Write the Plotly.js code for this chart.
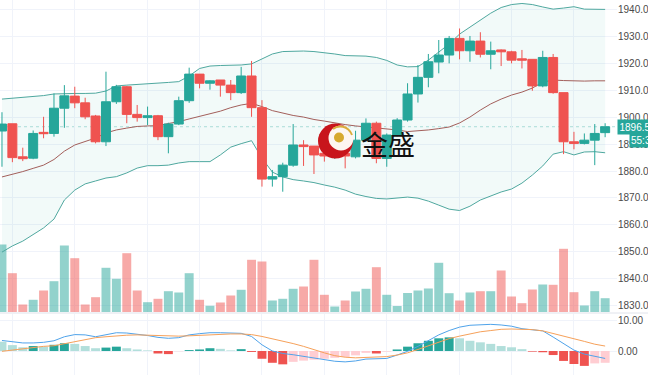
<!DOCTYPE html>
<html><head><meta charset="utf-8">
<script src="https://cdn.plot.ly/plotly-3.0.1.min.js"></script>
<style>html,body{margin:0;padding:0;background:#fff;overflow:hidden}#chart{width:648px;height:375px}</style>
</head><body><div id="chart"></div>
<script>
// ---- data ----
const openP  = [1894.9,1897.6,1885.3,1884.8,1894.4,1894.0,1903.4,1907.9,1905.4,1900.5,1890.9,1905.8,1911.4,1901.1,1899.9,1900.6,1892.8,1897.5,1906.2,1916.1,1912.7,1913.9,1912.0,1909.2,1915.4,1903.6,1877.0,1877.9,1882.2,1889.7,1889.3,1886.6,1885.6,1886.6,1885.3,1891.5,1897.8,1884.7,1893.4,1899.0,1908.7,1914.9,1920.6,1923.2,1929.4,1924.8,1928.4,1923.5,1925.1,1924.4,1921.8,1921.6,1911.7,1922.3,1909.2,1890.9,1890.3,1891.5,1894.3];
const highP  = [1901.9,1897.6,1888.7,1895.1,1900.2,1908.9,1912.0,1911.4,1907.3,1900.9,1917.0,1912.1,1911.7,1904.6,1904.0,1900.9,1898.0,1907.7,1918.5,1916.1,1913.8,1913.9,1913.9,1918.8,1921.0,1906.4,1880.4,1883.1,1897.5,1891.5,1889.3,1889.0,1888.0,1889.0,1895.0,1899.6,1898.4,1894.0,1899.7,1912.7,1919.5,1923.6,1928.8,1930.3,1933.1,1930.3,1931.7,1928.2,1925.3,1924.8,1925.1,1921.6,1924.8,1923.6,1909.2,1894.6,1894.0,1897.5,1897.8];
const lowP   = [1881.6,1883.3,1883.7,1884.4,1892.2,1892.8,1896.1,1903.4,1899.3,1890.3,1889.3,1905.0,1897.8,1898.4,1897.1,1891.5,1886.6,1897.1,1905.4,1910.8,1910.3,1907.7,1906.4,1908.7,1900.2,1874.2,1874.2,1872.3,1881.6,1881.9,1878.9,1883.5,1884.5,1881.0,1884.7,1890.9,1882.9,1881.6,1892.9,1898.4,1905.5,1911.2,1916.4,1920.1,1921.6,1920.7,1922.3,1917.9,1919.1,1920.1,1918.2,1909.9,1911.2,1908.8,1886.3,1888.1,1889.9,1882.2,1892.6];
const closeP = [1897.5,1885.0,1884.6,1894.0,1893.9,1903.4,1908.0,1905.4,1900.2,1890.9,1905.8,1911.4,1901.1,1899.9,1900.6,1892.8,1897.5,1906.2,1916.1,1912.7,1913.6,1912.0,1909.2,1915.4,1903.6,1877.0,1877.9,1882.2,1889.7,1889.1,1886.0,1885.6,1886.2,1885.6,1891.5,1897.8,1884.7,1893.4,1899.0,1908.7,1914.9,1920.7,1923.2,1929.4,1924.8,1928.4,1923.5,1924.8,1924.4,1921.3,1921.3,1911.7,1922.3,1909.2,1890.9,1890.3,1891.5,1894.0,1896.5];
const volume = [67.5,38.8,7.5,12.2,21.5,30.8,66.5,53.8,7.5,14.8,44.2,33.2,58.8,21.5,9.8,13.2,20.8,19.5,38.8,12.2,6.2,9.5,16.5,22.2,52.2,50.5,11.5,13.2,23.2,25.5,52.2,17.2,5.5,11.5,20.5,23.2,44.8,17.2,6.0,19.0,21.5,23.5,49.2,18.8,11.5,19.5,20.8,20.8,41.5,15.5,8.8,22.5,27.5,27.2,63.2,19.8,6.5,20.8,13.8];
const bbUpper  = [1906.8,1907.1,1907.4,1907.7,1908.1,1908.7,1908.9,1908.9,1908.9,1909.0,1909.8,1911.7,1912.0,1912.2,1912.4,1912.6,1913.0,1913.3,1915.4,1918.2,1919.1,1919.3,1919.4,1919.5,1919.9,1921.9,1923.6,1924.5,1924.7,1924.7,1924.5,1924.1,1923.6,1923.0,1922.9,1922.8,1922.3,1921.2,1919.5,1918.8,1918.9,1921.3,1924.3,1927.3,1931.0,1933.7,1936.2,1938.8,1940.9,1942.0,1942.4,1942.0,1941.1,1940.3,1940.7,1941.2,1940.3,1940.2,1940.2];
const bbMiddle = [1877.8,1878.7,1879.8,1881.0,1882.2,1884.3,1887.4,1889.7,1891.0,1892.3,1894.2,1895.3,1896.0,1896.6,1896.8,1896.9,1897.7,1898.4,1899.4,1900.3,1901.4,1902.3,1903.6,1904.6,1905.2,1904.0,1902.5,1901.6,1900.7,1900.1,1899.2,1898.6,1897.9,1897.3,1896.8,1896.4,1896.0,1895.8,1895.3,1894.7,1894.9,1895.3,1895.8,1896.4,1897.9,1900.1,1902.7,1905.0,1906.8,1908.3,1909.4,1910.9,1913.1,1913.9,1913.7,1913.5,1913.5,1913.6,1913.6];
const bbLower  = [1849.8,1852.1,1853.9,1856.2,1858.8,1862.1,1869.2,1872.9,1875.2,1876.3,1877.4,1877.9,1879.3,1881.1,1882.0,1882.0,1882.2,1883.0,1883.5,1883.5,1883.5,1886.0,1888.9,1890.2,1891.3,1884.8,1879.6,1877.8,1876.8,1876.3,1875.7,1874.8,1874.0,1872.9,1871.4,1870.5,1869.8,1869.6,1869.9,1870.3,1869.9,1868.8,1867.3,1865.8,1865.3,1866.9,1869.2,1870.7,1872.2,1873.3,1875.5,1878.5,1881.9,1886.3,1887.2,1886.0,1887.1,1887.2,1886.8];
const macdLine   = [3.4,3.0,2.6,2.6,2.8,3.3,4.6,5.3,5.2,4.6,5.3,5.9,5.8,5.5,5.0,4.4,4.1,4.3,5.2,5.6,5.9,5.9,5.9,5.7,4.7,2.0,0.0,-0.8,-1.2,-1.7,-2.3,-2.8,-3.3,-3.5,-3.2,-2.6,-2.4,-2.4,-1.3,-0.1,1.5,3.3,5.2,6.6,7.7,8.3,8.5,8.6,8.4,8.0,7.2,6.8,6.5,4.5,2.5,0.3,-1.0,-1.8,-2.4];
const signalLine = [-0.1,0.3,0.8,1.2,1.5,1.7,2.4,3.1,3.7,4.3,4.6,4.9,5.1,5.2,5.1,4.9,4.8,4.8,4.9,5.1,5.3,5.4,5.5,5.5,5.3,4.7,4.0,3.2,2.4,1.5,0.4,-0.6,-1.5,-2.0,-2.2,-2.1,-2.0,-1.8,-1.3,-0.6,0.5,1.6,2.9,4.0,4.8,5.5,6.2,6.6,7.0,7.1,7.1,6.9,6.5,5.7,4.9,4.0,3.1,2.2,1.6];
const macdHist   = [3.0,1.9,1.2,1.6,1.4,2.0,2.5,2.3,1.6,0.9,1.1,1.4,0.9,0.5,0.2,-0.8,-1.0,-0.1,0.3,0.5,0.9,0.7,0.2,0.6,-0.3,-2.5,-3.8,-4.3,-3.5,-3.1,-2.8,-2.5,-2.2,-1.9,-1.4,-0.6,-0.8,-0.2,0.5,1.4,2.5,3.3,4.1,4.4,4.1,3.3,2.8,2.3,1.6,1.2,0.6,-0.2,-0.4,-1.3,-3.2,-4.2,-4.8,-4.0,-3.8];
const gridIdx = [1,7,14,19,25,31,37,44,49,55];
const lastPrice = 1896.5;
const countdownText = '55:30';
const watermarkText = '金盛';

// ---- derived ----
const idx = openP.map((_, i) => i);
const UP = '#26a69a', DN = '#ef5350';
const volColors = idx.map(i => closeP[i] >= openP[i] ? 'rgba(38,166,154,0.5)' : 'rgba(239,83,80,0.5)');
const histColors = macdHist.map((v, i) => {
  const p = i > 0 ? macdHist[i - 1] : v;
  if (v >= 0) return v > p ? '#26a69a' : '#b2dfdb';
  return v < p ? '#ef5350' : '#ffcdd2';
});

const PW = 617, H = 375;           // plot width / height in px
const priceRange = [1827.5, 1943.7];
const xRange = [-0.19, 59.14];

const traces = [
  {type:'bar', x:idx, y:volume, xaxis:'x', yaxis:'y', marker:{color:volColors, line:{width:0}}, hoverinfo:'skip'},
  {type:'scatter', mode:'lines', x:idx, y:bbLower, xaxis:'x', yaxis:'y2', line:{color:'#4fa89f', width:1}, hoverinfo:'skip'},
  {type:'scatter', mode:'lines', x:idx, y:bbUpper, xaxis:'x', yaxis:'y2', line:{color:'#4fa89f', width:1}, fill:'tonexty', fillcolor:'rgba(38,166,154,0.06)', hoverinfo:'skip'},
  {type:'scatter', mode:'lines', x:idx, y:bbMiddle, xaxis:'x', yaxis:'y2', line:{color:'#a35f5b', width:1}, hoverinfo:'skip'},
  {type:'candlestick', x:idx, open:openP, high:highP, low:lowP, close:closeP, xaxis:'x', yaxis:'y4',
    increasing:{line:{color:UP, width:1}, fillcolor:UP}, decreasing:{line:{color:DN, width:1}, fillcolor:DN},
    whiskerwidth:0, hoverinfo:'skip'},
  {type:'bar', x:idx, y:macdHist, xaxis:'x2', yaxis:'y3', marker:{color:histColors, line:{width:0}}, hoverinfo:'skip'},
  {type:'scatter', mode:'lines', x:idx, y:macdLine, xaxis:'x2', yaxis:'y3', line:{color:'#4fa3ea', width:1}, hoverinfo:'skip'},
  {type:'scatter', mode:'lines', x:idx, y:signalLine, xaxis:'x2', yaxis:'y3', line:{color:'#f6a15a', width:1}, hoverinfo:'skip'}
];

const tickFont = {family:'Liberation Sans, Arial, sans-serif', size:10, color:'#4a4a4a'};
const xCommon = {range:xRange, autorange:false, tickmode:'array', tickvals:gridIdx, showticklabels:false, ticks:'',
  showgrid:true, gridcolor:'#f0f3fa', gridwidth:1, zeroline:false, showline:false, fixedrange:true,
  rangeslider:{visible:false}};

const layout = {
  width:648, height:375,
  margin:{l:0, r:648-PW, t:0, b:0},
  paper_bgcolor:'#ffffff', plot_bgcolor:'#ffffff',
  showlegend:false,
  bargap:0.14,
  boxgap:0.1, boxgroupgap:0.04,
  xaxis: Object.assign({anchor:'y', domain:[0,1]}, xCommon),
  xaxis2: Object.assign({anchor:'y3', domain:[0,1]}, xCommon),
  yaxis: {domain:[1-312/H, 1], range:[0, 312], visible:false, fixedrange:true},
  yaxis2: {overlaying:'y', side:'right', anchor:'x', range:priceRange, tick0:1830, dtick:10, tickformat:'.2f',
    showgrid:true, gridcolor:'#f0f3fa', zeroline:false, showline:false, ticks:'', tickfont:tickFont, automargin:false, fixedrange:true},
  yaxis4: {overlaying:'y', side:'right', anchor:'x', range:priceRange, visible:false, fixedrange:true},
  yaxis3: {domain:[0, 1-314/H], anchor:'x2', side:'right', range:[-7.74, 11.94], tickmode:'array', tickvals:[0,10],
    tickformat:'.2f', showgrid:true, gridcolor:'#f0f3fa', zeroline:false, showline:false, ticks:'', tickfont:tickFont, automargin:false, fixedrange:true},
  shapes: [
    {type:'line', xref:'paper', yref:'y2', x0:0, x1:1, y0:lastPrice, y1:lastPrice, line:{color:'rgba(38,166,154,0.35)', width:1, dash:'dot'}, layer:'below'},
    {type:'line', xref:'paper', yref:'paper', x0:0, x1:648/PW, y0:1-313/H, y1:1-313/H, line:{color:'#e0e3eb', width:1}},
    // watermark logo
    {type:'circle', xref:'paper', yref:'paper', xsizemode:'pixel', ysizemode:'pixel', xanchor:335.5/PW, yanchor:1-141/H,
      x0:-17.5, x1:17.5, y0:-17.5, y1:17.5, fillcolor:'#c8151c', line:{width:0}},
    {type:'circle', xref:'paper', yref:'paper', xsizemode:'pixel', ysizemode:'pixel', xanchor:341/PW, yanchor:1-138/H,
      x0:-12.5, x1:12.5, y0:-12.5, y1:12.5, fillcolor:'#fdf6f0', line:{width:0}},
    {type:'path', xref:'paper', yref:'paper', xsizemode:'pixel', ysizemode:'pixel', xanchor:341/PW, yanchor:1-138/H,
      path:'M -8,9 C -3,13 7,13 11,3', line:{color:'#d9ad3c', width:2}},
    {type:'circle', xref:'paper', yref:'paper', xsizemode:'pixel', ysizemode:'pixel', xanchor:339/PW, yanchor:1-137.5/H,
      x0:-5, x1:5, y0:-5, y1:5, fillcolor:'#d6a92e', line:{width:0}}
  ],
  annotations: [
    {xref:'paper', yref:'paper', x:388/PW, y:1-143/H, text:watermarkText, showarrow:false,
      font:{family:'Noto Sans CJK SC', size:27, color:'#111111'}},
    {xref:'paper', yref:'y2', x:1, xanchor:'left', y:lastPrice, text:lastPrice.toFixed(2), showarrow:false,
      bgcolor:UP, borderpad:1.5, font:{family:'Liberation Sans, Arial, sans-serif', size:10, color:'#ffffff'}},
    {xref:'paper', yref:'y2', x:1, xanchor:'left', xshift:12, y:lastPrice, yshift:-14, text:countdownText, showarrow:false,
      bgcolor:UP, borderpad:1, font:{family:'Liberation Sans, Arial, sans-serif', size:10, color:'#ffffff'}}
  ]
};

Plotly.newPlot('chart', traces, layout, {staticPlot:true, displayModeBar:false});
</script>
</body></html>
